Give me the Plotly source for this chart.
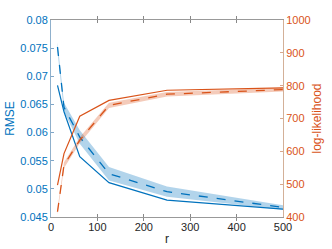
import plotly.graph_objects as go

r = [14, 28, 62, 125, 250, 500]
rmse_solid = [0.0684, 0.0637, 0.0557, 0.0511, 0.0480, 0.0464]
rmse_dash = [0.0752, 0.0645, 0.0592, 0.0527, 0.0495, 0.0467]
rmse_dash_err = [0.0008, 0.0008, 0.0012, 0.0012, 0.0009, 0.0004]
ll_solid = [497, 593, 707, 755, 786, 793]
ll_dash = [416, 558, 634, 740, 774, 788]
ll_dash_err = [8, 9, 9, 8, 7, 6]

x_ticks = [0, 100, 200, 300, 400, 500]
left_ticks = [0.045, 0.05, 0.055, 0.06, 0.065, 0.07, 0.075, 0.08]
left_labels = ["0.045", "0.05", "0.055", "0.06", "0.065", "0.07", "0.075", "0.08"]
right_ticks = [400, 500, 600, 700, 800, 900, 1000]

BLUE = "#0072BD"
ORANGE = "#D95319"

fig = go.Figure()

def band(x, y, e, color, yaxis):
    up = [a + b for a, b in zip(y, e)]
    lo = [a - b for a, b in zip(y, e)]
    return go.Scatter(x=list(x) + list(x)[::-1], y=up + lo[::-1], mode="lines", fill="toself",
                      fillcolor=color, line=dict(width=0), hoverinfo="skip",
                      showlegend=False, yaxis=yaxis)

fig.add_trace(band(r, rmse_dash, rmse_dash_err, "rgba(0,114,189,0.3)", "y"))
fig.add_trace(go.Scatter(x=r, y=rmse_dash, mode="lines", line=dict(color=BLUE, width=1.3, dash="dash"), yaxis="y", showlegend=False))
fig.add_trace(go.Scatter(x=r, y=rmse_solid, mode="lines", line=dict(color=BLUE, width=1.2), yaxis="y", showlegend=False))

fig.add_trace(band(r, ll_dash, ll_dash_err, "rgba(217,83,25,0.3)", "y2"))
fig.add_trace(go.Scatter(x=r, y=ll_dash, mode="lines", line=dict(color=ORANGE, width=1.3, dash="dash"), yaxis="y2", showlegend=False))
fig.add_trace(go.Scatter(x=r, y=ll_solid, mode="lines", line=dict(color=ORANGE, width=1.2), yaxis="y2", showlegend=False))

font = "Liberation Sans, Arial, sans-serif"
fig.update_layout(
    width=332, height=249,
    margin=dict(l=51, r=49, t=20, b=32),
    paper_bgcolor="white", plot_bgcolor="white",
    font=dict(family=font, size=11, color="#262626"),
    xaxis=dict(range=[0, 500], tickvals=x_ticks, ticks="inside", ticklen=3,
               tickcolor="#888888", showline=True, linecolor="#999999", linewidth=1,
               mirror="allticks", showgrid=False, zeroline=False, automargin=False,
               tickfont=dict(size=11, color="#262626"),
               title=dict(text="r", font=dict(size=12, color="#262626"), standoff=2)),
    yaxis=dict(range=[0.045, 0.08], tickvals=left_ticks, ticktext=left_labels,
               ticks="inside", ticklen=3, tickcolor="#7fa6c8",
               showline=True, linecolor="#8fb0cc", linewidth=1,
               showgrid=False, zeroline=False, automargin=False,
               tickfont=dict(size=11, color=BLUE),
               title=dict(text="RMSE", font=dict(size=12, color=BLUE), standoff=3)),
    yaxis2=dict(range=[400, 1000], tickvals=right_ticks, overlaying="y", side="right",
                ticks="inside", ticklen=3, tickcolor="#d9a88c",
                showline=True, linecolor="#d3b098", linewidth=1,
                showgrid=False, zeroline=False, automargin=False,
                tickfont=dict(size=11, color=ORANGE),
                title=dict(text="log-likelihood", font=dict(size=12, color=ORANGE), standoff=2)),
)

fig.write_html("out.html", config={"displayModeBar": False},
               post_script="document.body.style.margin='0';document.body.style.overflow='hidden';")
